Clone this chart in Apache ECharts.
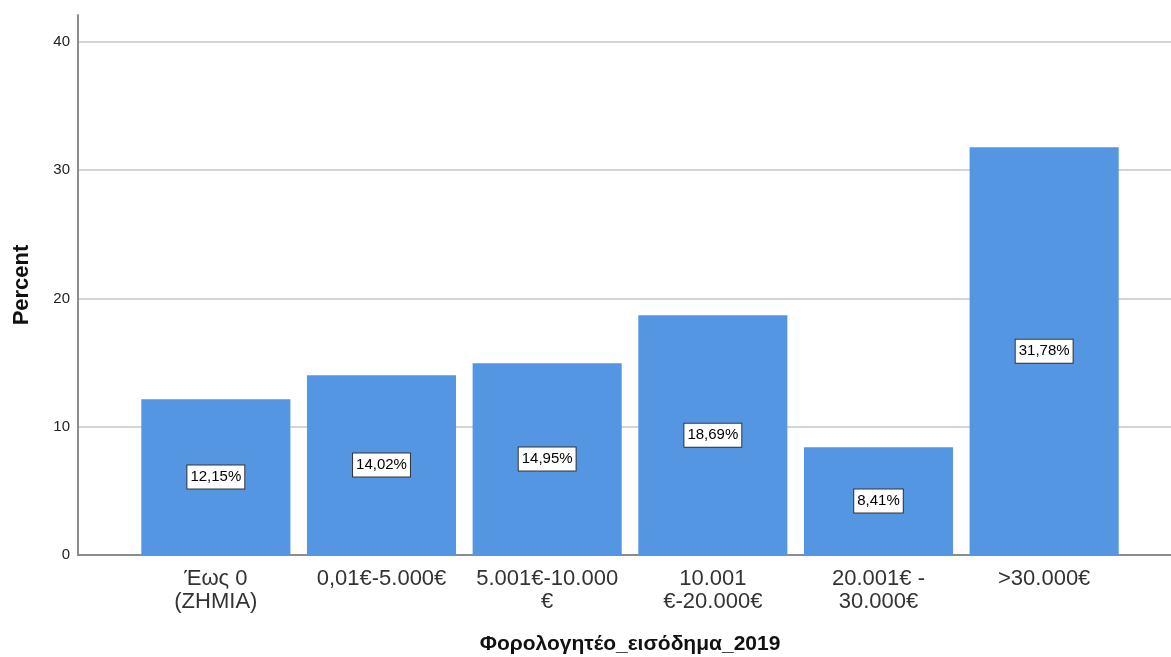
<!DOCTYPE html>
<html><head><meta charset="utf-8">
<script src="https://cdn.jsdelivr.net/npm/echarts@6/dist/echarts.min.js"></script>
<style>html,body{margin:0;padding:0;background:#fff}#c{width:1171px;height:657px}</style>
</head><body><div id="c"></div>
<script>
var categories = ['Έως 0\n(ZHMIA)', '0,01€-5.000€', '5.001€-10.000\n€', '10.001\n€-20.000€', '20.001€ -\n30.000€', '>30.000€'];
var percents = [12.15, 14.02, 14.95, 18.69, 8.41, 31.78];
var yTicks = [0, 10, 20, 30, 40];
var yMax = 42.1;
var xTitle = 'Φορολογητέο_εισόδημα_2019';
var yTitle = 'Percent';

var font = 'Arial, "Liberation Sans", sans-serif';
var chart = echarts.init(document.getElementById('c'));
chart.setOption({
  animation: false,
  backgroundColor: '#fff',
  grid: [
    {left: 78, right: 0, top: 15, bottom: 102, outerBoundsMode: 'none', containLabel: false},
    {left: 133, right: 44, top: 15, bottom: 102, outerBoundsMode: 'none', containLabel: false}
  ],
  xAxis: [
    {gridIndex: 0, type: 'value', min: 0, max: 1, axisLabel: {show: false}, axisTick: {show: false},
     splitLine: {show: false}, axisLine: {show: true, lineStyle: {color: '#8c8c8c', width: 2}}},
    {gridIndex: 1, type: 'category', data: categories, axisLine: {show: false}, axisTick: {show: false},
     axisLabel: {interval: 0, color: '#333', fontSize: 22, fontFamily: font, lineHeight: 23, margin: 12},
     name: xTitle, nameLocation: 'middle', nameGap: 79,
     nameTextStyle: {fontSize: 21, fontWeight: 'bold', color: '#111', fontFamily: font}}
  ],
  yAxis: [
    {gridIndex: 0, type: 'value', min: 0, max: yMax, interval: 10,
     axisLine: {show: true, lineStyle: {color: '#8c8c8c', width: 2}}, axisTick: {show: false},
     axisLabel: {color: '#222', fontSize: 15, fontFamily: font, margin: 8, showMaxLabel: false,
       formatter: function (v) { return yTicks.indexOf(v) >= 0 ? String(v) : ''; }},
     splitLine: {show: true, showMaxLine: false, lineStyle: {color: '#d4d4d4', width: 2}},
     name: yTitle, nameLocation: 'middle', nameRotate: 90, nameGap: 45,
     nameTextStyle: {fontSize: 22, fontWeight: 'bold', color: '#111', fontFamily: font}},
    {gridIndex: 1, type: 'value', min: 0, max: yMax, interval: 10, show: false}
  ],
  series: [{
    type: 'bar', xAxisIndex: 1, yAxisIndex: 1, data: percents,
    barCategoryGap: '10%',
    itemStyle: {color: '#5596e3'},
    label: {show: true, position: 'inside', color: '#000', fontSize: 15, fontFamily: font,
      backgroundColor: '#fff', borderColor: '#333', borderWidth: 1, padding: [4, 3],
      formatter: function (p) { return p.value.toFixed(2).replace('.', ',') + '%'; }}
  }]
});
</script></body></html>
